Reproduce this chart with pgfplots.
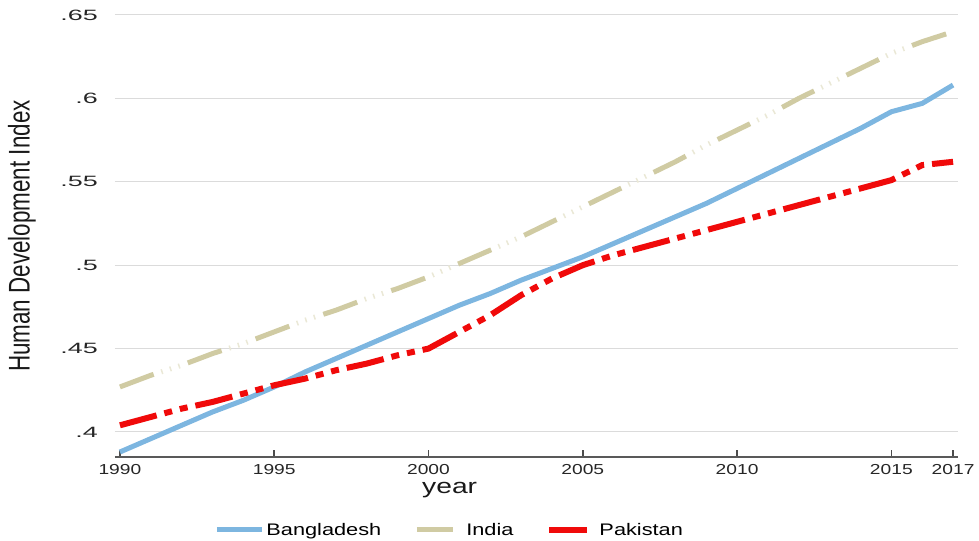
\documentclass[border=0pt]{standalone}
\usepackage{pgfplots}
\pgfplotsset{compat=1.18}
\usepackage{pgfplotstable}
\usepackage{fontspec}
\setmainfont{Liberation Sans}
\newfontfamily\ytickfont[FakeStretch=1.8]{Liberation Sans}
\newfontfamily\xtickfont[FakeStretch=1.33]{Liberation Sans}
\newfontfamily\titlefont[FakeStretch=1.35]{Liberation Sans}
\newfontfamily\legfont[FakeStretch=1.3]{Liberation Sans}
\newfontfamily\ylabfont[FakeStretch=0.75]{Liberation Sans}

\definecolor{bgdblue}{RGB}{125,182,224}
\definecolor{indkhaki}{RGB}{208,203,163}
\definecolor{pakred}{RGB}{240,10,10}

% HDI by year
\pgfplotstableread{
year  bgd   ind   pak
1990  0.388 0.427 0.404
1991  0.396 0.434 0.409
1992  0.404 0.440 0.414
1993  0.412 0.447 0.418
1994  0.419 0.453 0.423
1995  0.427 0.460 0.428
1996  0.436 0.467 0.432
1997  0.444 0.473 0.437
1998  0.452 0.480 0.441
1999  0.460 0.486 0.446
2000  0.468 0.493 0.450
2001  0.476 0.501 0.460
2002  0.483 0.509 0.470
2003  0.491 0.517 0.482
2004  0.498 0.526 0.492
2005  0.505 0.535 0.500
2006  0.513 0.544 0.506
2007  0.521 0.553 0.511
2008  0.529 0.562 0.516
2009  0.537 0.572 0.521
2010  0.546 0.581 0.526
2011  0.555 0.590 0.531
2012  0.564 0.600 0.536
2013  0.573 0.609 0.541
2014  0.582 0.618 0.546
2015  0.592 0.627 0.551
2016  0.597 0.634 0.560
2017  0.608 0.640 0.562
}\hdi

\begin{document}
\begin{tikzpicture}
\useasboundingbox (-115bp,-84bp) rectangle (864bp,457bp);
\begin{axis}[
    scale only axis,
    width=843bp, height=442bp,
    xmin=1989.84, xmax=2017.16,
    ymin=0.385, ymax=0.65,
    axis lines=left,
    axis line style={-, draw=black!65, line width=1.5bp},
    y axis line style={draw=none},
    xtick={1990,1995,2000,2005,2010,2015,2017},
    xticklabels={1990,1995,2000,2005,2010,2015,2017},
    ytick={0.4,0.45,0.5,0.55,0.6,0.65},
    yticklabels={.4,.45,.5,.55,.6,.65},
    tick align=inside,
    major tick length=7bp,
    xtick style={draw=black!70, line width=1.5bp},
    ytick style={draw=none},
    ymajorgrids,
    grid style={draw=black!14, line width=1bp},
    xticklabel style={font=\xtickfont\fontsize{14.5}{16}\selectfont, text=black!85,
        anchor=north, inner sep=0pt, yshift=-7bp},
    yticklabel style={font=\ytickfont\fontsize{15}{17}\selectfont, text=black!85,
        anchor=east, inner sep=0pt, xshift=-17bp},
    xlabel={year},
    xlabel style={font=\titlefont\fontsize{21}{24}\selectfont, text=black!90,
        at={(axis description cs:0.397,-0.075)}, anchor=center, inner sep=0pt},
    ylabel={Human Development Index},
    ylabel style={font=\ylabfont\fontsize{30}{34}\selectfont, text=black!90,
        at={(axis description cs:-0.1103,0.5)}, anchor=center, rotate=0, inner sep=0pt},
    legend columns=3,
    legend image code/.code={\draw[#1] (0bp,0bp) -- (45bp,0bp);},
    legend style={at={(axis description cs:0.397,-0.165)}, anchor=center,
        draw=none, fill=none, font=\legfont\fontsize{16.8}{18}\selectfont,
        /tikz/every even column/.append style={column sep=31bp},
        /tikz/every odd column/.append style={column sep=0bp}},
    legend cell align=left,
]
\addplot[bgdblue, line width=5bp, line join=round] table[x=year, y=bgd] {\hdi};
\addlegendentry{Bangladesh}
\addplot[indkhaki, line width=5bp, dash pattern=on 36bp off 36bp] table[x=year, y=ind] {\hdi};
\addlegendentry{India}
\addplot[pakred, line width=6bp, dash pattern=on 38bp off 8bp on 8bp off 8bp on 8bp off 8bp] table[x=year, y=pak] {\hdi};
\addlegendentry{Pakistan}
% faint dots in the gaps of the India line
\addplot[forget plot, indkhaki!45, line width=5bp,
    dash pattern=on 0bp off 44bp on 1.5bp off 7.5bp on 1.5bp off 7.5bp on 1.5bp off 8.5bp]
    table[x=year, y=ind] {\hdi};
\end{axis}
\end{tikzpicture}
\end{document}
